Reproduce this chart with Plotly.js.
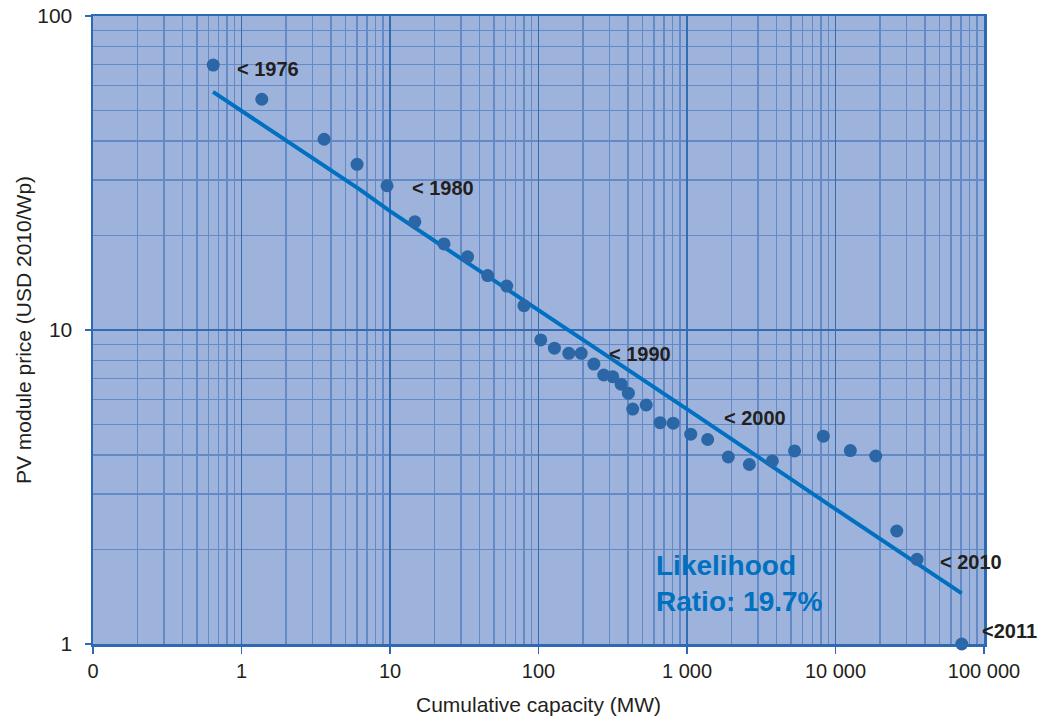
<!DOCTYPE html>
<html>
<head>
<meta charset="utf-8">
<script src="https://cdn.plot.ly/plotly-3.0.1.min.js"></script>
<style>
  html, body { margin: 0; padding: 0; background: #ffffff; }
  #chart { width: 1041px; height: 718px; }
</style>
</head>
<body>
<div id="chart"></div>
<script>
// Observed module prices vs cumulative capacity
const capacityMW = [0.645, 1.37, 3.6, 6.0, 9.55, 14.7, 23.1, 33.3, 45.5, 61.1, 79.8,
  103.6, 128, 160, 194, 236, 275, 316, 360, 403, 431, 531, 659, 807,
  1059, 1378, 1897, 2630, 3756, 5300, 8280, 12590, 18660, 25850, 35400, 70800];
const priceUSD = [69.8, 54.3, 40.5, 33.7, 28.8, 22.1, 18.8, 17.1, 14.9, 13.8, 11.95,
  9.3, 8.75, 8.43, 8.43, 7.79, 7.19, 7.10, 6.72, 6.29, 5.60, 5.77, 5.07, 5.05,
  4.66, 4.48, 3.94, 3.73, 3.83, 4.12, 4.59, 4.13, 3.97, 2.29, 1.86, 1.0];

// Fitted learning curve
const fitCapacityMW = [0.643, 6.28, 10, 100, 1000, 10000, 70800];
const fitPriceUSD = [57.3, 28.0, 23.9, 11.6, 5.6, 2.69, 1.45];

// Axis ticks
const xTickVals = [0.1, 1, 10, 100, 1000, 10000, 100000];
const xTickText = ["0", "1", "10", "100", "1 000", "10 000", "100 000"];
const yTickVals = [1, 10, 100];
const yTickText = ["1", "10", "100"];

// Year labels: text and the log-space anchor they sit at
const yearLabels = ["< 1976", "< 1980", "< 1990", "< 2000", "< 2010", "<2011"];
const yearLabelX = [0.90, 13.6, 289, 1721, 48980, 93970];
const yearLabelY = [67.8, 28.3, 8.4, 5.25, 1.824, 1.1];

const fitLabel = "Likelihood<br>Ratio: 19.7%";

const FONT = "Liberation Sans, Arial, Helvetica, sans-serif";
const MAJOR = "rgb(52,108,178)";
const MINOR = "rgb(98,138,198)";
const AXIS = "rgb(46,106,180)";

const traces = [
  {
    type: "scatter", mode: "lines",
    x: fitCapacityMW, y: fitPriceUSD,
    line: { color: "#0070c0", width: 4 },
    hoverinfo: "skip", showlegend: false
  },
  {
    type: "scatter", mode: "markers",
    x: capacityMW, y: priceUSD,
    marker: { color: "#2b67a6", size: 13 },
    cliponaxis: false, showlegend: false
  }
];

const annotations = yearLabels.map((t, i) => ({
  text: "<b>" + t + "</b>",
  x: Math.log10(yearLabelX[i]), y: Math.log10(yearLabelY[i]),
  xref: "x", yref: "y", xanchor: "left", yanchor: "middle",
  showarrow: false,
  font: { family: FONT, size: 20, color: "#231f20" }
}));
annotations.push({
  text: "<b>" + fitLabel + "</b>",
  x: Math.log10(600), y: Math.log10(1.56),
  xref: "x", yref: "y", xanchor: "left", yanchor: "middle", align: "left",
  showarrow: false,
  font: { family: FONT, size: 28, color: "#0070c0" }
});

const layout = {
  width: 1041, height: 718,
  margin: { l: 93, r: 57, t: 16, b: 74 },
  paper_bgcolor: "#ffffff",
  plot_bgcolor: "rgb(157,179,219)",
  showlegend: false,
  font: { family: FONT, color: "#231f20" },
  xaxis: {
    type: "log", range: [-1, 5],
    tickmode: "array", tickvals: xTickVals, ticktext: xTickText,
    tickfont: { family: FONT, size: 20, color: "#231f20" },
    ticks: "outside", ticklen: 7, tickwidth: 1.5, tickcolor: AXIS,
    showgrid: true, gridcolor: MAJOR, gridwidth: 1.5,
    minor: { dtick: "D1", showgrid: true, gridcolor: MINOR, gridwidth: 1.5, ticks: "" },
    showline: true, linecolor: AXIS, linewidth: 2.5, mirror: true,
    zeroline: false,
    title: { text: "Cumulative capacity (MW)", font: { family: FONT, size: 21, color: "#231f20" }, standoff: 17 }
  },
  yaxis: {
    type: "log", range: [0, 2],
    tickmode: "array", tickvals: yTickVals, ticktext: yTickText,
    tickfont: { family: FONT, size: 21, color: "#231f20" },
    ticks: "outside", ticklen: 6, tickwidth: 1.5, tickcolor: AXIS,
    ticklabelstandoff: 8,
    showgrid: true, gridcolor: MAJOR, gridwidth: 1.5,
    minor: { dtick: "D1", showgrid: true, gridcolor: MINOR, gridwidth: 1.5, ticks: "" },
    showline: true, linecolor: AXIS, linewidth: 2.5, mirror: true,
    zeroline: false,
    title: { text: "PV module price (USD 2010/Wp)", font: { family: FONT, size: 21, color: "#231f20" }, standoff: 0 }
  },
  annotations: annotations
};

Plotly.newPlot("chart", traces, layout, { displayModeBar: false, staticPlot: true });
</script>
</body>
</html>
